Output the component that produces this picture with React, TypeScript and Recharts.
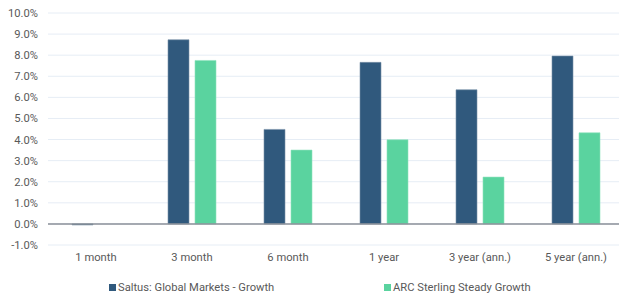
import React from "react";
import { BarChart, Bar, XAxis, YAxis, CartesianGrid, ReferenceLine, Legend } from "recharts";

const categories = ["1 month", "3 month", "6 month", "1 year", "3 year (ann.)", "5 year (ann.)"];
const saltus = [-0.05, 8.73, 4.48, 7.66, 6.36, 7.96];
const arc = [0.0, 7.75, 3.5, 3.99, 2.22, 4.32];
const yTicks = [-1, 0, 1, 2, 3, 4, 5, 6, 7, 8, 9, 10];
const seriesNames = ["Saltus: Global Markets - Growth", "ARC Sterling Steady Growth"];
const colors = ["#30597d", "#5ad39f"];
const strokes = ["#7890a8", "#8fe3bd"];

const data = categories.map((c, i) => ({ name: c, saltus: saltus[i], arc: arc[i] }));

const FONT = "Roboto, 'Noto Sans', sans-serif";

const LegendContent = () => (
  <div style={{ position: "relative", height: 20, fontFamily: FONT, fontSize: 11.2, color: "#595959" }}>
    {seriesNames.map((n, i) => (
      <div
        key={n}
        style={{ position: "absolute", left: i === 0 ? 109 : 384, top: 6, display: "flex", alignItems: "center", whiteSpace: "nowrap" }}
      >
        <span style={{ display: "inline-block", width: 7, height: 7, background: colors[i], marginRight: 2 }} />
        <span>{n}</span>
      </div>
    ))}
  </div>
);

export default function App() {
  return (
    <div style={{ position: "absolute", left: 0, top: 0, width: 619, height: 300, overflow: "hidden", background: "#fff" }}>
      <BarChart
        width={624}
        height={300}
        data={data}
        margin={{ top: 13, right: 0, bottom: 0, left: 0 }}
        barSize={21}
        barGap={6}
      >
        <CartesianGrid vertical={false} stroke="#e6edf5" />
        <XAxis
          dataKey="name"
          axisLine={false}
          tickLine={false}
          height={30}
          tick={{ fill: "#595959", fontSize: 11.2, fontFamily: FONT }}
          interval={0}
        />
        <YAxis
          width={48}
          domain={[-1, 10]}
          ticks={yTicks}
          interval={0}
          axisLine={false}
          tickLine={false}
          tickMargin={4}
          tickFormatter={(v: number) => `${v.toFixed(1)}%`}
          tick={{ fill: "#595959", fontSize: 11.2, fontFamily: FONT }}
        />
        <ReferenceLine y={0} stroke="#8b9199" strokeWidth={1.5} />
        <Legend verticalAlign="bottom" height={25} content={<LegendContent />} />
        <Bar dataKey="saltus" name={seriesNames[0]} fill={colors[0]} stroke={strokes[0]} strokeWidth={0.6} isAnimationActive={false} />
        <Bar dataKey="arc" name={seriesNames[1]} fill={colors[1]} stroke={strokes[1]} strokeWidth={0.6} isAnimationActive={false} />
      </BarChart>
    </div>
  );
}
